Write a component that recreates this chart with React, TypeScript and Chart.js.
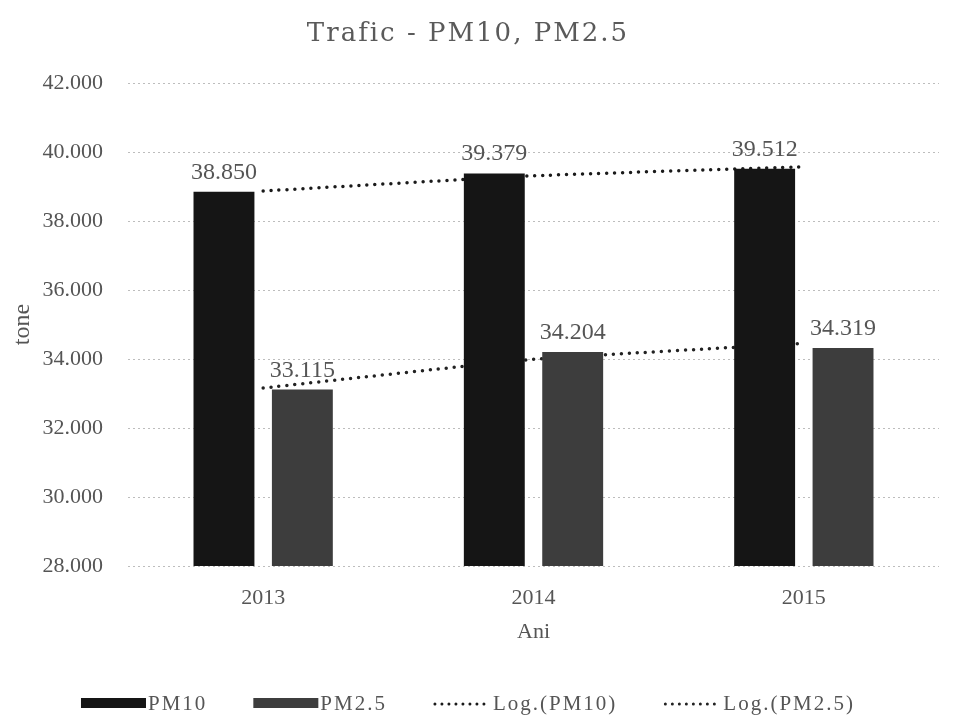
import React, { useEffect, useRef } from "react";
import { Chart, registerables } from "chart.js";

Chart.register(...registerables);

const categories = ["2013", "2014", "2015"];
const pm10 = [38850, 39379, 39512];
const pm25 = [33115, 34204, 34319];
// trendline values at each category
const logPm10 = [38870, 39310, 39570];
const logPm25 = [33160, 33990, 34450];
const yMin = 28000;
const yMax = 42000;
const yStep = 2000;
const titleText = "Trafic - PM10, PM2.5";

const FONT = "'Liberation Serif', 'Times New Roman', serif";
const TITLE_FONT = "'DejaVu Serif', serif";
const TEXT = "#555555";

const fmt = (v: number) =>
  Math.round(v)
    .toString()
    .replace(/\B(?=(\d{3})+(?!\d))/g, ".");

const titlePlugin = {
  id: "customTitle",
  afterDraw(chart: any) {
    const ctx = chart.ctx;
    ctx.save();
    ctx.font = `26px ${TITLE_FONT}`;
    (ctx as any).letterSpacing = "2px";
    ctx.fillStyle = "#5a5a5a";
    ctx.textAlign = "center";
    ctx.textBaseline = "middle";
    ctx.fillText(titleText, 468, 34);
    ctx.restore();
  },
};

const dataLabelPlugin = {
  id: "dataLabels",
  afterDatasetsDraw(chart: any) {
    const ctx = chart.ctx;
    ctx.save();
    ctx.font = `24px ${FONT}`;
    ctx.fillStyle = TEXT;
    ctx.textAlign = "center";
    ctx.textBaseline = "alphabetic";
    chart.data.datasets.forEach((ds: any, i: number) => {
      if (ds.type !== "bar") return;
      const meta = chart.getDatasetMeta(i);
      meta.data.forEach((el: any, j: number) => {
        ctx.fillText(fmt(ds.data[j]), el.x, el.y - 13);
      });
    });
    ctx.restore();
  },
};

const legendPlugin = {
  id: "customLegend",
  afterDraw(chart: any) {
    const ctx = chart.ctx;
    ctx.save();
    ctx.font = `21px ${FONT}`;
    (ctx as any).letterSpacing = "2px";
    ctx.textBaseline = "middle";
    const items = chart.data.datasets.map((ds: any) => ({
      label: ds.label,
      type: ds.type,
      color: ds.type === "bar" ? ds.backgroundColor : ds.borderColor,
    }));
    const symW = (it: any) => (it.type === "bar" ? 65 : 58);
    const gap = 2;
    const spacing = 46;
    const widths = items.map((it: any) => symW(it) + gap + ctx.measureText(it.label).width);
    const total = widths.reduce((a: number, b: number) => a + b, 0) + spacing * (items.length - 1);
    let x = 468 - total / 2;
    const y = 704;
    items.forEach((it: any, k: number) => {
      const w = symW(it);
      if (it.type === "bar") {
        ctx.fillStyle = it.color;
        ctx.fillRect(x, y - 6, w, 10);
      } else {
        ctx.strokeStyle = it.color;
        ctx.lineWidth = 3;
        ctx.lineCap = "round";
        ctx.setLineDash([0, 7]);
        ctx.beginPath();
        ctx.moveTo(x + 2, y);
        ctx.lineTo(x + w, y);
        ctx.stroke();
        ctx.setLineDash([]);
      }
      ctx.fillStyle = TEXT;
      ctx.textAlign = "left";
      ctx.fillText(it.label, x + w + gap, y);
      x += widths[k] + spacing;
    });
    ctx.restore();
  },
};

export default function App() {
  const ref = useRef<HTMLCanvasElement | null>(null);

  useEffect(() => {
    document.body.style.margin = "0";
    if (!ref.current) return;
    const chart = new Chart(ref.current, {
      type: "bar",
      data: {
        labels: categories,
        datasets: [
          {
            type: "bar",
            label: "PM10",
            data: pm10,
            backgroundColor: "#151515",
            order: 1,
            barPercentage: 0.777,
            categoryPercentage: 0.58,
          },
          {
            type: "bar",
            label: "PM2.5",
            data: pm25,
            backgroundColor: "#3d3d3d",
            order: 1,
            barPercentage: 0.777,
            categoryPercentage: 0.58,
          },
          {
            type: "line",
            label: "Log.(PM10)",
            data: logPm10,
            borderColor: "#1a1a1a",
            borderWidth: 3.5,
            borderDash: [0, 8],
            borderCapStyle: "round",
            pointRadius: 0,
            fill: false,
            tension: 0.15,
            order: 2,
          },
          {
            type: "line",
            label: "Log.(PM2.5)",
            data: logPm25,
            borderColor: "#222222",
            borderWidth: 3.5,
            borderDash: [0, 8],
            borderCapStyle: "round",
            pointRadius: 0,
            fill: false,
            tension: 0.15,
            order: 2,
          },
        ] as any,
      },
      options: {
        animation: false,
        responsive: true,
        maintainAspectRatio: false,
        layout: { padding: { top: 83, right: 21, bottom: 71, left: 8 } },
        plugins: {
          legend: { display: false },
          tooltip: { enabled: false },
          title: { display: false },
        },
        scales: {
          x: {
            grid: { display: false },
            border: { display: false },
            afterFit: (s: any) => {
              s.height = 79;
            },
            ticks: {
              color: TEXT,
              font: { family: FONT, size: 22 },
              padding: 11,
            },
            title: {
              display: true,
              text: "Ani",
              color: TEXT,
              font: { family: FONT, size: 22 },
              padding: { top: 0, bottom: 0 },
            },
          },
          y: {
            min: yMin,
            max: yMax,
            border: { display: false },
            afterFit: (s: any) => {
              s.width = 120;
            },
            grid: {
              color: "#bdbdbd",
              lineWidth: 1,
              drawTicks: false,
            },
            ticks: {
              stepSize: yStep,
              color: TEXT,
              font: { family: FONT, size: 22 },
              padding: 25,
              callback: (v: any) => fmt(Number(v)),
            },
            title: {
              display: true,
              text: "tone",
              color: TEXT,
              font: { family: FONT, size: 24 },
              padding: { top: 0, bottom: 0 },
            },
          },
        },
      } as any,
      plugins: [titlePlugin, dataLabelPlugin, legendPlugin],
    });
    (chart.options.scales as any).y.border = { display: false, dash: [2, 3] };
    (chart.options.scales as any).y.grid.tickBorderDash = [2, 3];
    chart.update();
    return () => chart.destroy();
  }, []);

  return (
    <div style={{ width: 960, height: 716, position: "relative", background: "#fff" }}>
      <canvas ref={ref} />
    </div>
  );
}
